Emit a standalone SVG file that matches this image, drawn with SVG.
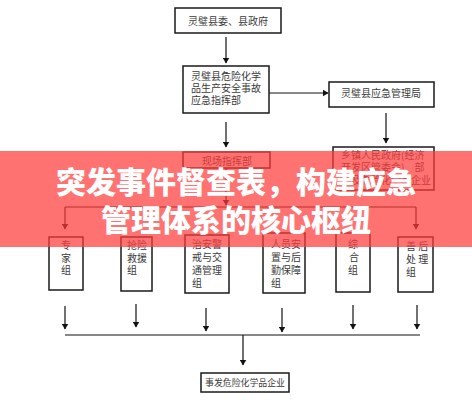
<svg xmlns="http://www.w3.org/2000/svg" width="472" height="400" viewBox="0 0 472 400">
<defs>
<marker id="ah" markerWidth="6" markerHeight="7" refX="5.5" refY="3.5" orient="auto" markerUnits="userSpaceOnUse">
<path d="M0,0 L6,3.5 L0,7 Z" fill="#111"/>
</marker>
<style>
.box{fill:#fff;stroke:#1a1a1a;stroke-width:1.5}
.t{font-family:"Noto Sans CJK SC","Noto Sans",sans-serif;font-size:10px;fill:#3a3a3a}
.c{text-anchor:middle}
.ln{fill:none;stroke:#111;stroke-width:1.2}
.ar{fill:none;stroke:#111;stroke-width:1.2;marker-end:url(#ah)}
.title{font-family:"Noto Sans CJK SC","Noto Sans",sans-serif;font-size:30px;font-weight:900;fill:#fff;text-anchor:middle}
</style>
</defs>
<rect width="472" height="400" fill="#fff"/>

<g id="connectors">
<line class="ar" x1="226" y1="37" x2="226" y2="63"/>
<line class="ar" x1="269" y1="93" x2="328" y2="93"/>
<line class="ar" x1="226" y1="122" x2="226" y2="147"/>
<line class="ar" x1="386" y1="113" x2="386" y2="143"/>
<line class="ar" x1="226" y1="168" x2="226" y2="205"/>
<line class="ln" x1="65" y1="207" x2="416" y2="207"/>
<line class="ar" x1="65" y1="207" x2="65" y2="229"/>
<line class="ar" x1="416" y1="207" x2="416" y2="229"/>
<line class="ar" x1="65" y1="306" x2="65" y2="329"/>
<line class="ar" x1="136" y1="304" x2="136" y2="327"/>
<line class="ar" x1="206" y1="308" x2="206" y2="331"/>
<line class="ar" x1="282" y1="308" x2="282" y2="332"/>
<line class="ar" x1="353" y1="305" x2="353" y2="329"/>
<line class="ar" x1="417" y1="305" x2="417" y2="329"/>
<line class="ln" x1="65" y1="335" x2="420" y2="335"/>
<line class="ar" x1="243" y1="335" x2="243" y2="365"/>
</g>

<g id="n-county">
<rect class="box" x="175" y="8" width="106" height="25"/>
<text class="t c" x="228" y="25">灵璧县委、县政府</text>
</g>
<g id="n-hq">
<rect class="box" x="183" y="66" width="86" height="47"/>
<text class="t" x="191" y="80">灵璧县危险化学</text>
<text class="t" x="191" y="92">品生产安全事故</text>
<text class="t" x="191" y="104">应急指挥部</text>
</g>
<g id="n-bureau">
<rect class="box" x="329" y="82" width="105" height="25"/>
<text class="t c" x="381" y="97">灵璧县应急管理局</text>
</g>
<g id="n-site">
<rect class="box" x="183" y="152" width="87" height="16"/>
<text class="t c" x="227" y="165">现场指挥部</text>
</g>
<g id="n-town">
<rect class="box" x="333" y="147" width="101" height="43"/>
<text class="t" x="341" y="159">乡镇人民政府(经济</text>
<text class="t" x="341" y="171">开发区管委会)、部</text>
<text class="t" x="341" y="184">门及危险化学品企业</text>
</g>

<g id="n-expert">
<rect class="box" x="49" y="237" width="34" height="53"/>
<text class="t c" x="66" y="249">专</text>
<text class="t c" x="66" y="262">家</text>
<text class="t c" x="66" y="274">组</text>
</g>
<g id="n-rescue">
<rect class="box" x="121" y="237" width="31" height="54"/>
<text class="t" x="127" y="249">抢险</text>
<text class="t" x="127" y="262">救援</text>
<text class="t" x="127" y="274">组</text>
</g>
<g id="n-security">
<rect class="box" x="185" y="235" width="44" height="58"/>
<text class="t" x="192" y="248">治安警</text>
<text class="t" x="192" y="261">戒与交</text>
<text class="t" x="192" y="274">通管理</text>
<text class="t" x="192" y="287">组</text>
</g>
<g id="n-logistics">
<rect class="box" x="263" y="233" width="42" height="60"/>
<text class="t" x="271" y="248">人员安</text>
<text class="t" x="271" y="261">置与后</text>
<text class="t" x="271" y="274">勤保障</text>
<text class="t" x="271" y="287">组</text>
</g>
<g id="n-general">
<rect class="box" x="336" y="233" width="34" height="59"/>
<text class="t c" x="353" y="248">综</text>
<text class="t c" x="354" y="261">合</text>
<text class="t c" x="353" y="274">组</text>
</g>
<g id="n-aftermath">
<rect class="box" x="398" y="237" width="35" height="55"/>
<text class="t" x="406" y="250">善 后</text>
<text class="t" x="406" y="263">处 理</text>
<text class="t" x="406" y="276">组</text>
</g>

<g id="n-enterprise">
<rect class="box" x="201" y="373" width="88" height="19"/>
<text class="t c" x="245" y="386" style="font-size:9px" textLength="80" lengthAdjust="spacingAndGlyphs">事发危险化学品企业</text>
</g>

<g id="banner">
<rect x="0" y="151" width="472" height="96" fill="#ff3c3c" fill-opacity="0.72"/>
<text class="title" x="236" y="193">突发事件督查表，构建应急</text>
<text class="title" x="236" y="231">管理体系的核心枢纽</text>
</g>
</svg>
